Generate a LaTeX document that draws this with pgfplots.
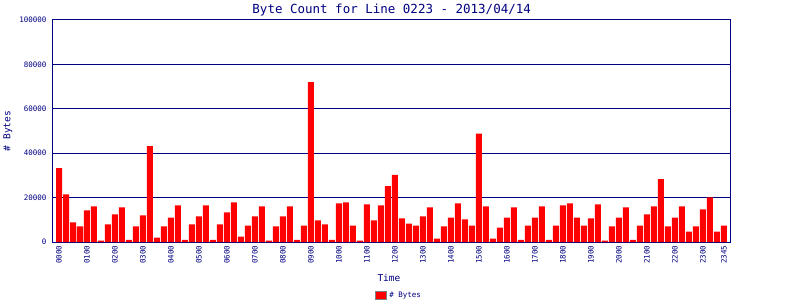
\documentclass[border=0pt]{standalone}
\usepackage{pgfplots}
\pgfplotsset{compat=1.18}
\usepackage{fontspec}
\setmainfont{DejaVu Sans Mono}
\definecolor{navy}{RGB}{0,0,128}
\pgfplotstableread{
x y
0 33300
1 21500
2 8800
3 7000
4 14200
5 16000
6 600
7 7900
8 12400
9 15600
10 1000
11 7000
12 12000
13 43200
14 2000
15 7000
16 11000
17 16500
18 1000
19 7900
20 11500
21 16500
22 1000
23 7900
24 13300
25 17900
26 2400
27 7400
28 11500
29 16000
30 600
31 7000
32 11500
33 16000
34 1000
35 7400
36 72000
37 9700
38 7900
39 1000
40 17400
41 17900
42 7400
43 600
44 17000
45 9700
46 16500
47 25200
48 30200
49 10600
50 8300
51 7400
52 11500
53 15600
54 1500
55 7000
56 11000
57 17400
58 10200
59 7400
60 48800
61 16000
62 1500
63 6500
64 11000
65 15600
66 1000
67 7400
68 11000
69 16000
70 1000
71 7400
72 16500
73 17400
74 11000
75 7400
76 10600
77 17000
78 600
79 7000
80 11000
81 15600
82 1000
83 7400
84 12400
85 16000
86 28300
87 7000
88 11000
89 16000
90 4700
91 7000
92 14700
93 20100
94 4700
95 7400
}\bytes
\begin{document}
\begin{tikzpicture}
\begin{axis}[
  name=ax,
  scale only axis,
  width=678pt, height=222pt,
  xmin=-1, xmax=95.86,
  ymin=0, ymax=100000,
  scaled y ticks=false,
  axis line style={navy, line width=1pt},
  ymajorgrids,
  grid style={navy, line width=1pt},
  major tick length=0pt,
  ytick={0,20000,40000,60000,80000,100000},
  yticklabels={0,20000,40000,60000,80000,100000},
  yticklabel style={font=\fontsize{7.5}{8}\selectfont, text=navy, xshift=-2pt},
  xtick={0,4,8,12,16,20,24,28,32,36,40,44,48,52,56,60,64,68,72,76,80,84,88,92,95},
  xticklabels={0000,0100,0200,0300,0400,0500,0600,0700,0800,0900,1000,1100,1200,1300,1400,1500,1600,1700,1800,1900,2000,2100,2200,2300,2345},
  xticklabel style={font=\fontsize{7.5}{8}\selectfont, text=navy, rotate=90, anchor=east},
  title={Byte Count for Line 0223 - 2013/04/14},
  every axis title/.style={font=\fontsize{12.5}{13}\selectfont, text=navy, at={(axis description cs:0.501,1)}, anchor=center, yshift=10pt},
  xlabel={Time},
  xlabel style={font=\fontsize{9.5}{10}\selectfont, text=navy, at={(axis description cs:0.497,-0.161)}, anchor=center},
  ylabel={\# Bytes},
  ylabel style={font=\fontsize{9.5}{10}\selectfont, text=navy, at={(axis description cs:-0.065,0.5)}, anchor=center},
  legend style={at={(axis description cs:0.512,-0.239)}, anchor=center, draw=none, fill=none,
    font=\fontsize{7.5}{8}\selectfont, text=navy, inner sep=1pt},
  legend image code/.code={\draw[fill=red, draw=gray, line width=1pt] (0pt,-4pt) rectangle (11pt,4pt);},
]
\addplot[ybar, bar width=6pt, bar shift=0pt, fill=red, draw=none] table[x=x, y=y] {\bytes};
\addlegendentry{\# Bytes}
\end{axis}
\pgfresetboundingbox
\path[use as bounding box] (ax.south west) ++(-52pt,-58pt) rectangle ++(800pt,300pt);
\end{tikzpicture}
\end{document}
